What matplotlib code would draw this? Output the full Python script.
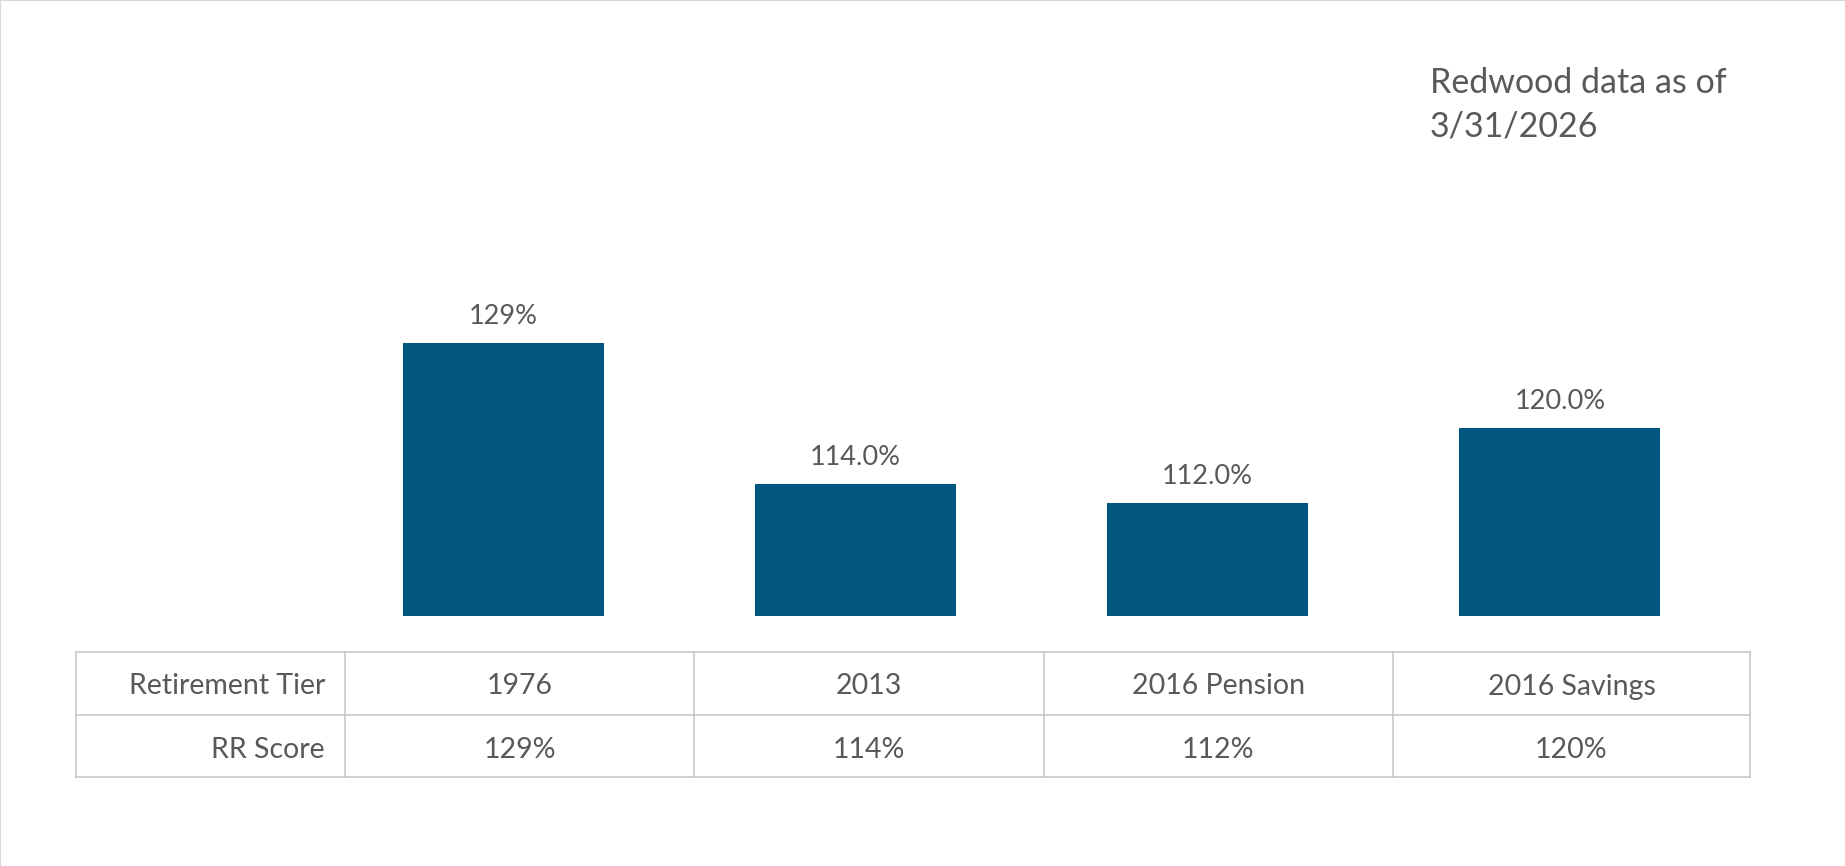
import matplotlib
matplotlib.use('Agg')
import matplotlib.pyplot as plt
from matplotlib.lines import Line2D

# Retirement tier scores
tiers = ['1976', '2013', '2016 Pension', '2016 Savings']
rr_scores = [129, 114, 112, 120]
label_decimals = [0, 1, 1, 1]
table_scores = ['129%', '114%', '112%', '120%']
row_headers = ['Retirement Tier', 'RR Score']
note_lines = ['Redwood data as of', '3/31/2026']

BAR_COLOR = '#02567f'
TEXT_COLOR = '#595959'
GRID_COLOR = '#c4c4c4'
FONT = ['Lato', 'DejaVu Sans']

W, H = 1845, 866
plt.rcParams['font.family'] = FONT


def fx(px):
    return px / W


def fy(py):
    return 1 - py / H


fig = plt.figure(figsize=(W / 100, H / 100), dpi=100)

# bar area: baseline at 100%, categories spaced evenly
ax = fig.add_axes([fx(327), fy(616), fx(1736 - 327), (616 - 239.6) / H])
xs = range(len(tiers))
ax.bar(xs, [v - 100 for v in rr_scores], bottom=100, width=0.57, color=BAR_COLOR)
ax.set_xlim(-0.5, len(tiers) - 0.5)
ax.set_ylim(100, 140)
ax.axis('off')

for x, v, d in zip(xs, rr_scores, label_decimals):
    ax.annotate(f'{v:.{d}f}%', (x, v), xytext=(0, 13.7), textcoords='offset points',
                ha='center', va='baseline', fontsize=19.5, color=TEXT_COLOR)

# data table under the bars
col_edges = [76, 345, 694, 1043.5, 1393, 1750]
row_edges = [652, 715, 777]
line_kw = dict(color=GRID_COLOR, linewidth=1.1, transform=fig.transFigure)
for y in row_edges:
    fig.add_artist(Line2D([fx(col_edges[0]), fx(col_edges[-1])], [fy(y), fy(y)], **line_kw))
for x in col_edges:
    fig.add_artist(Line2D([fx(x), fx(x)], [fy(row_edges[0]), fy(row_edges[-1])], **line_kw))

rows = [tiers, table_scores]
baseline_shift = [11, 12]
for r, (header, cells) in enumerate(zip(row_headers, rows)):
    yb = (row_edges[r] + row_edges[r + 1]) / 2 + baseline_shift[r]
    fig.text(fx(col_edges[1] - 20), fy(yb), header, ha='right', va='baseline',
             fontsize=20.5, color=TEXT_COLOR)
    for c, cell in enumerate(cells):
        xc = (col_edges[c + 1] + col_edges[c + 2]) / 2
        fig.text(fx(xc), fy(yb), cell, ha='center', va='baseline',
                 fontsize=20.5, color=TEXT_COLOR)

# as-of note, top right
for i, line in enumerate(note_lines):
    fig.text(fx(1430), fy(93 + 44 * i), line, ha='left', va='baseline',
             fontsize=24.5, color=TEXT_COLOR)

# thin frame on the top and left edges
frame_kw = dict(color='#d9d9d9', linewidth=1.5, transform=fig.transFigure)
fig.add_artist(Line2D([0, 1], [1, 1], **frame_kw))
fig.add_artist(Line2D([0, 0], [0, 1], **frame_kw))

fig.savefig('out.png', dpi=100, facecolor='white')
